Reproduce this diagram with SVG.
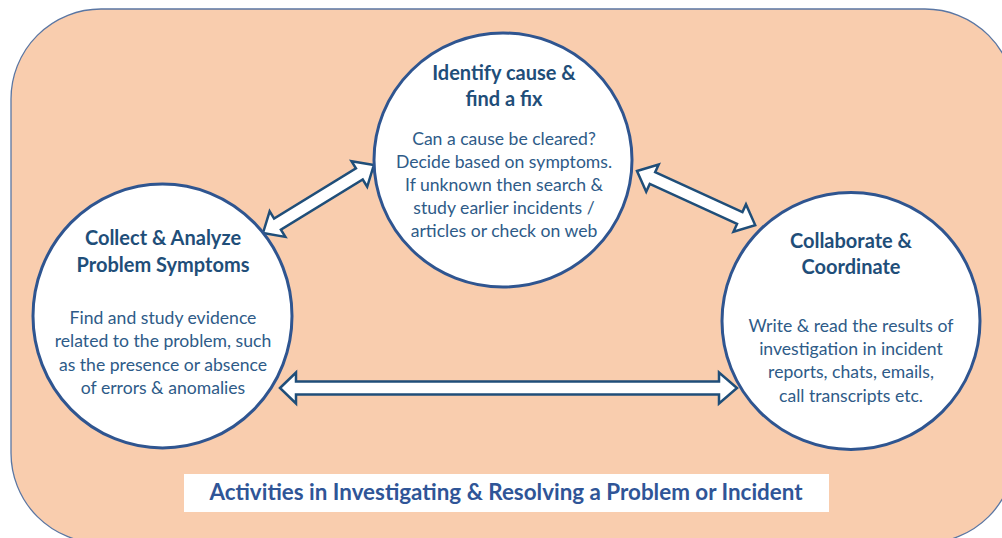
<svg xmlns="http://www.w3.org/2000/svg" width="1002" height="538" viewBox="0 0 1002 538">
<style>
.node ellipse{fill:#ffffff;stroke:#2f5590;stroke-width:3}
.title{font-family:Lato,"Open Sans",sans-serif;font-weight:bold;font-size:20px;fill:#1f4e79;text-anchor:middle}
.body{font-family:Lato,"Open Sans",sans-serif;font-size:17.6px;fill:#2e5b88;text-anchor:middle}
.arrow{fill:#ffffff;stroke:#1f4e79;stroke-width:2.5;stroke-linejoin:miter}
.caption{font-family:Lato,"Open Sans",sans-serif;font-weight:bold;font-size:22.4px;fill:#2f5597;text-anchor:middle}
</style>
<rect id="background" x="11" y="9" width="1004" height="534" rx="90" ry="90" fill="#f9cdae" stroke="#5a76a3" stroke-width="1.3"/>
<g id="connectors">
<g transform="translate(263,233) rotate(-31.5)">
<path class="arrow" d="M0 0 L17 -15 L17 -6.5 L113 -6.5 L113 -15 L130 0 L113 15 L113 6.5 L17 6.5 L17 15 Z"/>
</g>
<g transform="translate(637,171) rotate(24.6)">
<path class="arrow" d="M0 0 L17 -15 L17 -6.5 L113 -6.5 L113 -15 L130 0 L113 15 L113 6.5 L17 6.5 L17 15 Z"/>
</g>
<g transform="translate(280,388)">
<path class="arrow" d="M0 0 L16 -15.5 L16 -6.5 L439 -6.5 L439 -15.5 L457 0 L439 15.5 L439 6.5 L16 6.5 L16 15.5 Z"/>
</g>
</g>
<g id="node-identify" class="node">
<ellipse cx="503" cy="160" rx="129" ry="127"/>
<text class="title" x="504" y="80">Identify cause &amp;</text>
<text class="title" x="504" y="106">find a fix</text>
<text class="body" x="504" y="145">Can a cause be cleared?</text>
<text class="body" x="504" y="168">Decide based on symptoms.</text>
<text class="body" x="504" y="191">If unknown then search &amp;</text>
<text class="body" x="504" y="214">study earlier incidents /</text>
<text class="body" x="504" y="237">articles or check on web</text>
</g>
<g id="node-collect" class="node">
<ellipse cx="162.5" cy="316" rx="129.5" ry="132"/>
<text class="title" x="163" y="245">Collect &amp; Analyze</text>
<text class="title" x="163" y="272">Problem Symptoms</text>
<text class="body" x="163" y="324">Find and study evidence</text>
<text class="body" x="163" y="347">related to the problem, such</text>
<text class="body" x="163" y="371">as the presence or absence</text>
<text class="body" x="163" y="394">of errors &amp; anomalies</text>
</g>
<g id="node-collaborate" class="node">
<ellipse cx="851" cy="321" rx="129" ry="128.5"/>
<text class="title" x="851" y="248">Collaborate &amp;</text>
<text class="title" x="851" y="274">Coordinate</text>
<text class="body" x="851" y="332">Write &amp; read the results of</text>
<text class="body" x="851" y="355">investigation in incident</text>
<text class="body" x="851" y="378">reports, chats, emails,</text>
<text class="body" x="851" y="402">call transcripts etc.</text>
</g>
<g id="caption">
<rect x="184" y="474" width="645" height="38" fill="#ffffff"/>
<text class="caption" x="506" y="500">Activities in Investigating &amp; Resolving a Problem or Incident</text>
</g>
</svg>
